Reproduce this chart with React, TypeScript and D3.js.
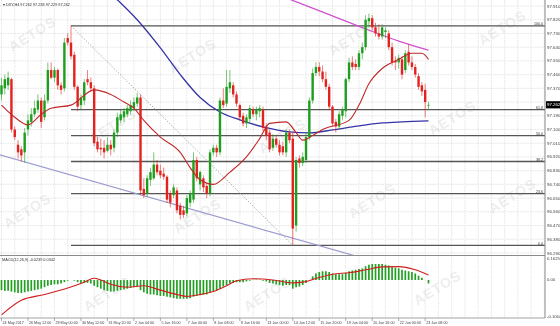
import React from "react";
import * as d3 from "d3";

const W = 560;
const H = 326;

const symbolHeader = "DXY,H4  97.262 97.283 97.229 97.262";
const macdHeader = "MACD(12,26,9) -0.0239 0.0342";

const timeLabels = [
  "24 May 2017", "26 May 12:00", "29 May 00:00", "30 May 12:00", "31 May 20:00",
  "2 Jun 04:00", "5 Jun 16:00", "7 Jun 00:00", "8 Jun 08:00", "9 Jun 16:00",
  "13 Jun 00:00", "14 Jun 12:00", "15 Jun 20:00", "19 Jun 04:00", "20 Jun 16:00",
  "22 Jun 00:00", "23 Jun 08:00",
];

const priceTicks = [
  97.91, 97.82, 97.73, 97.64, 97.55, 97.46, 97.37, 97.28, 97.19, 97.1,
  97.01, 96.92, 96.83, 96.74, 96.65, 96.56, 96.47, 96.38, 96.29,
];

const macdTickLabels = ["0.1625", "0.00", "-0.1064"];
const lastPrice = 97.262;

const opens = [
  97.33, 97.37, 97.39, 97.43, 97.10, 97.00, 96.97, 96.95, 97.10, 97.15,
  97.20, 97.23, 97.29, 97.18, 97.29, 97.49, 97.44, 97.49, 97.39, 97.37,
  97.70, 97.67, 97.59, 97.38, 97.26, 97.29, 97.43, 97.41, 97.37, 97.02,
  96.98, 96.98, 96.96, 97.00, 96.98, 97.08, 97.16, 97.18, 97.20, 97.22,
  97.24, 97.27, 97.31, 96.71, 96.68, 96.77, 96.78, 96.87, 96.83, 96.81,
  96.79, 96.68, 96.67, 96.70, 96.60, 96.57, 96.55, 96.62, 96.64, 96.90,
  96.74, 96.78, 96.73, 96.68, 96.95, 96.98, 96.95, 97.29, 97.27, 97.37,
  97.39, 97.33, 97.26, 97.19, 97.14, 97.17, 97.23, 97.20, 97.22, 97.23,
  97.12, 97.08, 96.98, 97.04, 97.00, 96.99, 96.95, 97.08, 97.04, 96.47,
  96.91, 96.88, 96.90, 97.05, 97.29, 97.47, 97.51, 97.48, 97.43, 97.38,
  97.25, 97.15, 97.12, 97.19, 97.22, 97.43, 97.54, 97.53, 97.51, 97.60,
  97.64, 97.81, 97.83, 97.77, 97.73, 97.71, 97.74, 97.73, 97.64, 97.55,
  97.54, 97.56, 97.49, 97.61, 97.54, 97.51, 97.45, 97.39, 97.36, 97.262,
];
const highs = [
  97.44, 97.46, 97.48, 97.44, 97.12, 97.03, 96.99, 97.11, 97.20, 97.24,
  97.29, 97.33, 97.31, 97.33, 97.54, 97.54, 97.51, 97.50, 97.41, 97.70,
  97.73, 97.78, 97.61, 97.39, 97.33, 97.43, 97.49, 97.44, 97.39, 97.05,
  97.04, 97.03, 97.05, 97.03, 97.10, 97.21, 97.23, 97.24, 97.26, 97.29,
  97.31, 97.34, 97.33, 96.78, 96.80, 96.85, 96.95, 96.90, 96.87, 96.85,
  96.80, 96.70, 96.74, 96.72, 96.62, 96.60, 96.67, 96.70, 96.95, 96.92,
  96.83, 96.80, 96.75, 96.97, 97.00, 97.00, 97.31, 97.37, 97.49, 97.49,
  97.41, 97.35, 97.27, 97.21, 97.20, 97.26, 97.25, 97.25, 97.26, 97.25,
  97.14, 97.10, 97.07, 97.06, 97.03, 97.02, 97.10, 97.10, 97.08, 96.92,
  96.93, 96.95, 97.08, 97.31, 97.50, 97.54, 97.54, 97.52, 97.48, 97.40,
  97.26, 97.17, 97.22, 97.25, 97.44, 97.57, 97.58, 97.56, 97.62, 97.67,
  97.85, 97.86, 97.85, 97.80, 97.79, 97.79, 97.77, 97.75, 97.67, 97.58,
  97.59, 97.58, 97.62, 97.66, 97.58, 97.53, 97.47, 97.41, 97.40, 97.283,
];
const lows = [
  97.29, 97.33, 97.36, 97.08, 97.03, 96.91, 96.89, 96.88, 97.06, 97.12,
  97.18, 97.21, 97.11, 97.16, 97.27, 97.43, 97.41, 97.36, 97.33, 97.35,
  97.65, 97.56, 97.36, 97.22, 97.23, 97.26, 97.39, 97.35, 96.99, 96.95,
  96.93, 96.91, 96.95, 96.93, 96.95, 97.05, 97.14, 97.15, 97.18, 97.20,
  97.22, 97.25, 96.67, 96.65, 96.66, 96.73, 96.77, 96.80, 96.78, 96.77,
  96.62, 96.59, 96.65, 96.55, 96.51, 96.52, 96.53, 96.59, 96.62, 96.76,
  96.70, 96.69, 96.65, 96.66, 96.93, 96.92, 96.93, 97.24, 97.25, 97.34,
  97.31, 97.25, 97.16, 97.12, 97.11, 97.14, 97.18, 97.16, 97.18, 97.09,
  97.03, 96.95, 96.96, 96.98, 96.93, 96.93, 96.92, 97.01, 96.34, 96.43,
  96.85, 96.86, 96.88, 97.03, 97.27, 97.45, 97.45, 97.41, 97.36, 97.23,
  97.12, 97.08, 97.10, 97.16, 97.18, 97.41, 97.49, 97.49, 97.49, 97.56,
  97.62, 97.77, 97.75, 97.71, 97.69, 97.69, 97.70, 97.62, 97.52, 97.49,
  97.50, 97.43, 97.47, 97.52, 97.49, 97.44, 97.36, 97.32, 97.18, 97.229,
];
const closes = [
  97.39, 97.43, 97.44, 97.10, 97.05, 96.95, 96.93, 97.08, 97.16, 97.20,
  97.24, 97.29, 97.15, 97.29, 97.49, 97.44, 97.49, 97.39, 97.36, 97.67,
  97.67, 97.58, 97.38, 97.25, 97.31, 97.41, 97.41, 97.37, 97.01, 96.97,
  96.97, 96.95, 97.00, 96.97, 97.08, 97.18, 97.20, 97.22, 97.24, 97.26,
  97.28, 97.31, 96.70, 96.67, 96.78, 96.82, 96.87, 96.82, 96.80, 96.79,
  96.64, 96.62, 96.72, 96.57, 96.54, 96.54, 96.65, 96.68, 96.90, 96.78,
  96.82, 96.72, 96.68, 96.95, 96.98, 96.95, 97.29, 97.26, 97.38, 97.41,
  97.33, 97.27, 97.18, 97.14, 97.18, 97.24, 97.20, 97.23, 97.24, 97.11,
  97.06, 96.97, 97.04, 97.00, 96.95, 96.95, 97.08, 97.03, 96.45, 96.90,
  96.88, 96.92, 97.05, 97.29, 97.47, 97.51, 97.48, 97.43, 97.38, 97.25,
  97.14, 97.12, 97.20, 97.23, 97.43, 97.54, 97.51, 97.51, 97.60, 97.64,
  97.82, 97.83, 97.77, 97.73, 97.71, 97.77, 97.75, 97.64, 97.54, 97.54,
  97.57, 97.46, 97.60, 97.54, 97.51, 97.46, 97.38, 97.35, 97.28, 97.262,
];

// moving averages read at bar positions: [bar, price]
const redMA: [number, number][] = [
  [0, 97.26], [4, 97.18], [8, 97.13], [12, 97.2], [15, 97.24], [21, 97.26],
  [28, 97.36], [33, 97.33], [37, 97.28], [40, 97.24], [43, 97.16], [48, 97.05],
  [54, 96.95], [57, 96.85], [60, 96.77], [64, 96.74], [69, 96.82], [74, 96.92],
  [78, 97.04], [81, 97.14], [86, 97.15], [89, 97.08], [91, 97.03], [94, 97.06],
  [97, 97.1], [105, 97.16], [108, 97.26], [111, 97.4], [115, 97.5], [120, 97.56],
  [124, 97.6], [127, 97.6], [129, 97.56],
];
const blueMA: [number, number][] = [
  [33, 97.99], [36, 97.93], [41, 97.82], [48, 97.635], [54, 97.46], [60, 97.31],
  [66, 97.215], [72, 97.163], [79, 97.117], [87, 97.084], [93, 97.078],
  [100, 97.097], [106, 97.117], [115, 97.143], [121, 97.15], [129, 97.156],
];
const magentaMA: [number, number][] = [
  [84, 97.98], [100, 97.845], [110, 97.76], [120, 97.68], [129, 97.62],
];

// trend line anchors (ray)
const trendA: [number, number] = [0, 96.93];
const trendB: [number, number] = [60, 96.56];

// Fibonacci retracement
const fibHigh: [number, number] = [21, 97.78];
const fibLow: [number, number] = [88, 96.34];
const fibLevels = [0, 23.6, 38.2, 50, 61.8, 100];

const macdMain = [
  -0.07, -0.075, -0.075, -0.08, -0.085, -0.09, -0.09,
  -0.085, -0.08, -0.075, -0.07, -0.065, -0.06, -0.05, -0.04, -0.035, -0.03, -0.03, -0.025, -0.015, -0.005,
  0.0, -0.005, -0.015, -0.02, -0.02, -0.02, -0.025,
  -0.04, -0.05, -0.06, -0.07, -0.075, -0.08, -0.08, -0.075, -0.07, -0.065, -0.06, -0.055, -0.05, -0.045,
  -0.07, -0.085, -0.095, -0.1, -0.1, -0.105, -0.11, -0.11, -0.115, -0.12, -0.125, -0.13, -0.13, -0.13, -0.13, -0.125,
  -0.115, -0.11, -0.105, -0.1, -0.1, -0.09, -0.08, -0.075, -0.06,
  -0.045, -0.035, -0.025, -0.02, -0.015, -0.015, -0.015, -0.01, -0.005, 0.002, 0.003, 0.002,
  -0.005, -0.01, -0.02, -0.025, -0.03, -0.035, -0.04, -0.035, -0.035, -0.06,
  -0.05, -0.045, -0.035, -0.02, 0.0, 0.025, 0.045, 0.055,
  0.06, 0.06, 0.055, 0.045, 0.04, 0.04, 0.04, 0.05, 0.06,
  0.065, 0.07, 0.075, 0.08, 0.095, 0.105, 0.11, 0.11, 0.11, 0.11, 0.105, 0.1, 0.09,
  0.085, 0.08, 0.07, 0.065, 0.06, 0.055, 0.045, 0.03, 0.015, 0.0, -0.024,
];
const macdSignal: [number, number][] = [
  [0, -0.24], [6, -0.14], [13, -0.1], [20, -0.055], [25, -0.015], [28, 0.012],
  [30, 0.0], [33, -0.03], [38, -0.05], [43, -0.04], [48, -0.07], [53, -0.1],
  [56, -0.113], [60, -0.1], [64, -0.08], [68, -0.04], [71, -0.005], [76, 0.008],
  [82, 0.0], [88, -0.02], [91, -0.015], [95, 0.01], [100, 0.04], [105, 0.05],
  [110, 0.07], [115, 0.09], [120, 0.092], [125, 0.07], [129, 0.0342],
];

const watermarks: [number, number][] = [
  [35, 38], [195, 60], [355, 42], [505, 32],
  [115, 130], [285, 140], [455, 122],
  [30, 215], [200, 220], [375, 205], [515, 200],
  [110, 298], [270, 298], [440, 292],
];

const FONT = "'Liberation Sans', Arial, sans-serif";

export default function App() {
  const AX = 545;
  const MAIN_B = 255.5;
  const MACD_T = 256;
  const MACD_B = 318;
  const BAR = 3.31;

  const x = d3.scaleLinear().domain([0, 164]).range([1.5, 1.5 + 164 * BAR]);
  const y = d3.scaleLinear().domain([96.29, 97.91]).range([253, 6]);
  const ym = d3.scaleLinear().domain([-0.26, 0.1625]).range([317.7, 256.4]);

  const priceLine = d3
    .line<[number, number]>()
    .x((d) => x(d[0]))
    .y((d) => y(d[1]))
    .curve(d3.curveMonotoneX);
  const straight = d3
    .line<[number, number]>()
    .x((d) => x(d[0]))
    .y((d) => y(d[1]));
  const sigLine = d3
    .line<[number, number]>()
    .x((d) => x(d[0]))
    .y((d) => ym(d[1]))
    .curve(d3.curveMonotoneX);

  const vGrid = d3.range(0, 165, 4).map((b) => x(b)).filter((v) => v < AX);

  const slope = (trendB[1] - trendA[1]) / (trendB[0] - trendA[0]);
  const tStart = -2;
  const tEnd = 164;
  const trendPts: [number, number][] = [
    [tStart, trendA[1] + slope * (tStart - trendA[0])],
    [tEnd, trendA[1] + slope * (tEnd - trendA[0])],
  ];

  const fibY = (lvl: number) => y(fibLow[1] + ((fibHigh[1] - fibLow[1]) * lvl) / 100);

  const bull = "#1e9e1e";
  const bear = "#e3221f";
  const lastY = y(lastPrice);

  return (
    <svg
      width={W}
      height={H}
      viewBox={`0 0 ${W} ${H}`}
      style={{ position: "absolute", left: 0, top: 0, background: "#fff" }}
      fontFamily={FONT}
    >
      <defs>
        <clipPath id="mainClip">
          <rect x={0} y={0} width={AX} height={MAIN_B} />
        </clipPath>
        <clipPath id="macdClip">
          <rect x={0} y={MACD_T} width={AX} height={MACD_B - MACD_T} />
        </clipPath>
      </defs>
      <rect x={0} y={0} width={W} height={H} fill="#fff" />

      {/* grid */}
      <g stroke="#d4d4d4" strokeWidth={0.6} strokeDasharray="1.5,1">
        {priceTicks.map((p) => (
          <line key={"h" + p} x1={0} x2={AX} y1={y(p)} y2={y(p)} />
        ))}
        {vGrid.map((v, i) => (
          <line key={"v" + i} x1={v} x2={v} y1={0} y2={MACD_B} />
        ))}
      </g>

      {/* watermarks */}
      <g fontSize={14} fontWeight="bold" fill="#c8c8c8" opacity={0.32} letterSpacing={1}>
        {watermarks.map(([wx, wy], i) => (
          <text key={"w" + i} x={wx} y={wy} textAnchor="middle" transform={`rotate(-32 ${wx} ${wy})`}>
            AETOS
          </text>
        ))}
      </g>

      <g clipPath="url(#mainClip)">
        {fibLevels.map((lvl) => (
          <line
            key={"f" + lvl}
            x1={x(fibHigh[0])}
            x2={AX}
            y1={fibY(lvl)}
            y2={fibY(lvl)}
            stroke="#555"
            strokeWidth={1.3}
          />
        ))}
        <line
          x1={x(fibHigh[0])}
          y1={y(fibHigh[1])}
          x2={x(fibLow[0])}
          y2={y(fibLow[1])}
          stroke="#9a9a9a"
          strokeWidth={0.8}
          strokeDasharray="1.5,1.5"
        />
        <path d={straight(trendPts) || ""} fill="none" stroke="#9c9cd0" strokeWidth={1.2} />

        <path d={priceLine(blueMA) || ""} fill="none" stroke="#3535a6" strokeWidth={1.3} />
        <path d={priceLine(magentaMA) || ""} fill="none" stroke="#cf52cf" strokeWidth={1.3} />

        {opens.map((o, i) => {
          const c = closes[i];
          const up = c >= o;
          const col = up ? bull : bear;
          const cx = x(i);
          const yTop = y(Math.max(o, c));
          const yBot = y(Math.min(o, c));
          return (
            <g key={"c" + i}>
              <line x1={cx} x2={cx} y1={y(highs[i])} y2={y(lows[i])} stroke={col} strokeWidth={0.8} opacity={0.75} />
              <rect x={cx - 1.2} y={yTop} width={2.4} height={Math.max(0.8, yBot - yTop)} fill={col} />
            </g>
          );
        })}

        <path d={priceLine(redMA) || ""} fill="none" stroke="#c0282a" strokeWidth={1.1} />
      </g>

      {/* fib labels */}
      <g fontSize={3.6} fill="#333" textAnchor="end">
        {fibLevels.map((lvl) => (
          <text key={"fl" + lvl} x={AX - 2} y={fibY(lvl) - 0.8}>
            {lvl.toFixed(1)}
          </text>
        ))}
      </g>

      {/* MACD panel */}
      <g clipPath="url(#macdClip)">
        {macdMain.map((v, i) => (
          <line
            key={"m" + i}
            x1={x(i)}
            x2={x(i)}
            y1={ym(0)}
            y2={ym(v)}
            stroke="#22a022"
            strokeWidth={1.7}
          />
        ))}
        <path d={sigLine(macdSignal) || ""} fill="none" stroke="#d21d1d" strokeWidth={1.1} />
      </g>

      {/* panel frames */}
      <line x1={0} x2={AX} y1={MAIN_B} y2={MAIN_B} stroke="#8a8a8a" strokeWidth={1} />
      <line x1={0} x2={AX} y1={MACD_B} y2={MACD_B} stroke="#8a8a8a" strokeWidth={0.8} />
      <line x1={AX} x2={AX} y1={0} y2={MACD_B} stroke="#8a8a8a" strokeWidth={1} />

      {/* price axis labels */}
      <g fontSize={4.4} fill="#444">
        {priceTicks
          .filter((p) => Math.abs(y(p) - lastY) > 6)
          .map((p) => (
            <text key={"pt" + p} x={AX + 2} y={y(p) + 1.5}>
              {p.toFixed(3)}
            </text>
          ))}
      </g>
      <rect x={AX + 1} y={lastY - 3.6} width={15} height={7.2} fill="#000" />
      <text x={AX + 2} y={lastY + 1.6} fontSize={4.4} fill="#fff">
        {lastPrice.toFixed(3)}
      </text>

      {/* MACD axis labels */}
      <g fontSize={4.2} fill="#444">
        <text x={AX + 2} y={260}>{macdTickLabels[0]}</text>
        <text x={AX + 2} y={ym(0) + 1.5}>{macdTickLabels[1]}</text>
        <text x={AX + 2} y={317.5}>{macdTickLabels[2]}</text>
      </g>

      {/* time axis */}
      <g fontSize={3.7} fill="#444">
        {timeLabels.map((t, k) => {
          const tx = x(k * 8);
          return (
            <g key={"t" + k}>
              <line x1={tx} x2={tx} y1={MACD_B} y2={MACD_B + 3} stroke="#777" strokeWidth={0.6} />
              <text x={tx + 1} y={323.5}>
                {t}
              </text>
            </g>
          );
        })}
      </g>

      {/* headers */}
      <text x={3} y={6} fontSize={3.8} fill="#333">
        {"▾ " + symbolHeader}
      </text>
      <text x={2} y={261} fontSize={3.8} fill="#333">
        {macdHeader}
      </text>
    </svg>
  );
}
